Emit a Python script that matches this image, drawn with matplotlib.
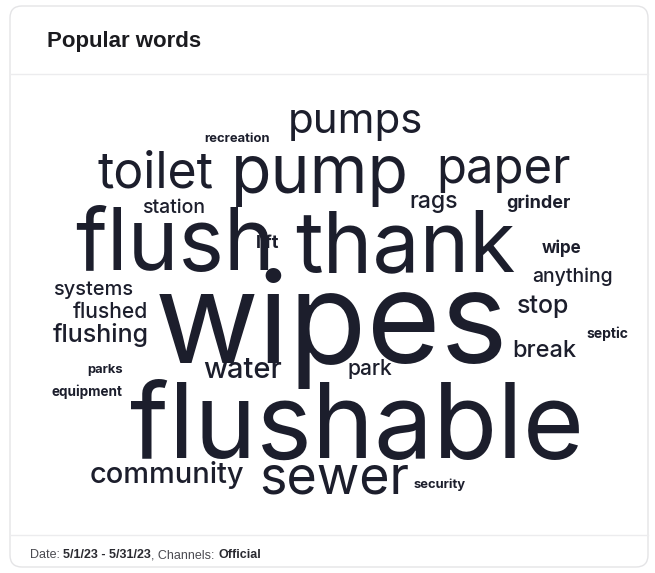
import matplotlib
matplotlib.use("Agg")
import matplotlib.pyplot as plt
from matplotlib.patches import FancyBboxPatch

# ---- data: word -> relative weight (font size in px in the layout) ----
words = ["wipes", "flushable", "flush", "thank", "pump", "toilet", "paper", "sewer",
         "pumps", "community", "water", "flushing", "stop", "break", "rags", "park",
         "flushed", "systems", "station", "anything", "lift", "grinder", "wipe",
         "septic", "equipment", "recreation", "parks", "security"]
weights = [127, 105, 86, 84, 66, 50, 49, 52,
           42, 29, 29, 25, 25, 23.5, 23, 21,
           21, 20, 19.5, 19.5, 18, 18, 17,
           14, 13.5, 13, 13, 13]

# ---- layout (pixel coordinates of the word cloud): centre x, baseline y ----
layout_x = [331, 357, 175, 405, 320, 156, 504, 334,
            355, 167, 243, 101, 543, 544, 434, 370,
            110, 93, 174, 573, 268, 538, 562,
            607, 87, 237, 105, 440]
layout_y = [363, 458, 270, 271, 193, 188, 183, 493,
            133, 483, 378, 342, 313, 357, 208, 375,
            318, 295, 213, 282, 248, 208, 253,
            338, 396, 142, 373, 488]

W, H = 655, 573
fig = plt.figure(figsize=(W / 100, H / 100), dpi=100)
ax = fig.add_axes([0, 0, 1, 1])
ax.set_xlim(0, W)
ax.set_ylim(H, 0)
ax.axis("off")

# card
card = FancyBboxPatch((10, 6), 638, 561, boxstyle="round,pad=0,rounding_size=12",
                      facecolor="white", edgecolor="#e4e4e6", linewidth=1.0)
ax.add_patch(card)
ax.plot([10, 648], [74, 74], color="#ececee", lw=1.0)
ax.plot([10, 648], [535, 535], color="#ececee", lw=1.0)

ax.text(47, 42, "Popular words", fontsize=16, fontweight="bold",
        family=["Liberation Sans", "DejaVu Sans"], color="#1b1b1f",
        ha="left", va="center")

# footer
ff = ["Liberation Sans", "DejaVu Sans"]
parts = [("Date: ", "normal", "#4a4a50"), ("5/1/23 - 5/31/23", "bold", "#2a2a30"),
         (", Channels: ", "normal", "#4a4a50"), ("Official", "bold", "#2a2a30")]
fig.canvas.draw()
r = fig.canvas.get_renderer()
xpos = 30
for txt, wt, col in parts:
    t = ax.text(xpos, 555, txt, fontsize=9, fontweight=wt, family=ff,
                color=col, ha="left", va="center")
    bb = t.get_window_extent(renderer=r)
    xpos += bb.width

# words
order = sorted(range(len(words)), key=lambda i: weights[i])
for i in order:
    px = weights[i]
    if px >= 40:
        fw = "normal"
    elif px >= 19:
        fw = "medium"
    else:
        fw = "bold"
    ax.text(layout_x[i], layout_y[i], words[i], fontsize=px * 0.72,
            family=["Inter", "DejaVu Sans"], fontweight=fw, color="#1c1e2c",
            ha="center", va="baseline")

fig.savefig("out.png", dpi=100)
